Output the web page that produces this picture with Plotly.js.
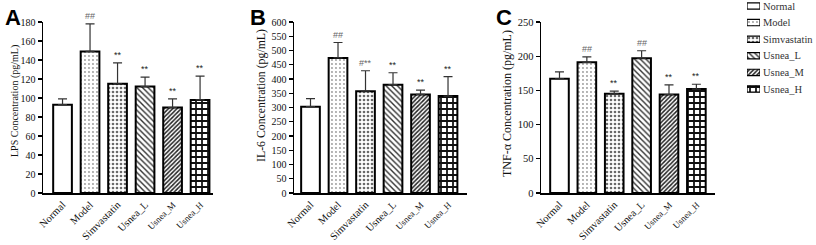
<!DOCTYPE html>
<html><head><meta charset="utf-8">
<script src="https://cdn.plot.ly/plotly-3.0.1.min.js"></script>
<style>html,body{margin:0;padding:0;background:#fff}#c{width:816px;height:245px}</style>
</head><body><div id="c"></div>
<script>
const categories = ['Normal','Model','Simvastatin','Usnea_L','Usnea_M','Usnea_H'];
const tickLabels = ['Normal','Model','Simvastatin','Usnea_L','<span style="font-size:9px">Usnea_M</span>','<span style="font-size:9px">Usnea_H</span>'];
const legendLabels = ['Normal','Model','Simvastatin','Usnea_L','Usnea_M','Usnea_H'];
const lpsMean = [93, 149, 115, 112, 90, 98];
const lpsTop  = [99, 178, 137, 122, 99, 123];
const lpsMarks = ['', '##', '**', '**', '**', '**'];
const il6Mean = [303, 474, 357, 380, 346, 340];
const il6Top  = [331, 528, 429, 422, 361, 408];
const il6Marks = ['', '##', '#**', '**', '**', '**'];
const tnfMean = [167, 191, 145, 197, 144, 152];
const tnfTop  = [177, 199, 149, 208, 158, 159];
const tnfMarks = ['', '##', '**', '##', '**', '**'];
const yTitles = ['LPS Concentration (pg/mL)', 'IL-6 Concentration (pg/mL)', 'TNF-α Concentration (pg/mL)'];
const panelLetters = ['A','B','C'];

const patterns = [
  {shape:'', bgcolor:'#ffffff'},
  {shape:'.', size:4, solidity:0.18, fgcolor:'#9a9a9a', bgcolor:'#ffffff'},
  {shape:'.', size:4, solidity:0.35, fgcolor:'#6a6a6a', bgcolor:'#ffffff'},
  {shape:'\\', size:4, solidity:0.35, fgcolor:'#333333', bgcolor:'#ffffff'},
  {shape:'/', size:3, solidity:0.5, fgcolor:'#222222', bgcolor:'#ffffff'},
  {shape:'+', size:6, solidity:0.5, fgcolor:'#111111', bgcolor:'#ffffff'}
];

const panels = [
  {mean:lpsMean, top:lpsTop, marks:lpsMarks, dom:[43,213], xr:[-0.71,5.47], yr:[0,180], dt:20, tf:10, tt:{x:15, y:101, s:10}},
  {mean:il6Mean, top:il6Top, marks:il6Marks, dom:[294,467], xr:[-0.6,5.69], yr:[0,600], dt:50, tf:10, tt:{x:261, y:96, s:11.8}},
  {mean:tnfMean, top:tnfTop, marks:tnfMarks, dom:[541,715], xr:[-0.675,5.68], yr:[0,250], dt:50, tf:10.5, tt:{x:507, y:104, s:12}}
];
const W = 816, H = 245;
const yDom = [(H-193)/H, (H-22)/H];
const serif = 'Liberation Serif, Times New Roman, serif';

const traces = [];
const annotations = [];
const layout = {
  width: W, height: H, margin:{l:0,r:0,t:0,b:0},
  paper_bgcolor:'#fff', plot_bgcolor:'#fff',
  barmode:'overlay', showlegend:false,
  font:{family:serif, color:'#000'}
};

panels.forEach((p, pi) => {
  const ax = pi === 0 ? '' : String(pi+1);
  categories.forEach((c, ci) => {
    traces.push({
      type:'bar', x:[c], y:[p.mean[ci]], width:0.68, name:c,
      xaxis:'x'+ax, yaxis:'y'+ax,
      marker:{color:'#fff', line:{color:'#000', width:2}, pattern:patterns[ci]},
      error_y:{type:'data', symmetric:false, array:[p.top[ci]-p.mean[ci]], arrayminus:[0], color:'#333', thickness:1.2, width:4.5},
      hoverinfo:'skip'
    });
    if (p.marks[ci]) {
      const isHash = p.marks[ci].startsWith('#');
      annotations.push({
        xref:'x'+ax, yref:'y'+ax, x:c, y:p.top[ci], yanchor:'bottom', yshift:1,
        text:p.marks[ci], showarrow:false,
        font:{family:'Liberation Sans, Arial, sans-serif', size:9, color: isHash ? '#666' : '#222'}
      });
    }
  });
  layout['xaxis'+ax] = {
    domain:[p.dom[0]/W, p.dom[1]/W], range:p.xr, anchor:'y'+ax,
    type:'category', tickmode:'array', tickvals:categories, ticktext:tickLabels,
    tickangle:-45, ticks:'', showline:true, linecolor:'#000', linewidth:1.5,
    showgrid:false, zeroline:false, tickfont:{family:serif, size:10.5, color:'#111'}
  };
  layout['yaxis'+ax] = {
    domain:yDom, range:p.yr, anchor:'x'+ax, dtick:p.dt, tick0:0,
    ticks:'outside', ticklen:4, tickwidth:1.2, tickcolor:'#000',
    showline:true, linecolor:'#000', linewidth:1.5, showgrid:false, zeroline:false,
    tickfont:{family:serif, size:p.tf, color:'#111'}
  };
  annotations.push({
    xref:'paper', yref:'paper', x:p.tt.x/W, y:(H-p.tt.y)/H, textangle:-90,
    text:yTitles[pi], showarrow:false, xanchor:'center', yanchor:'middle',
    font:{family:serif, size:p.tt.s, color:'#111'}
  });
  const letterX = [3, 248, 494][pi];
  annotations.push({
    xref:'paper', yref:'paper', x:letterX/W, y:1 - 3/H, xanchor:'left', yanchor:'top',
    text:'<b>'+panelLetters[pi]+'</b>', showarrow:false,
    font:{family:'Liberation Sans, Arial, sans-serif', size:22, color:'#000'}
  });
});

// legend drawn as a small horizontal-bar subplot
categories.forEach((c, ci) => {
  traces.push({
    type:'bar', orientation:'h', y:[c], x:[1], width:0.38, name:c,
    xaxis:'x4', yaxis:'y4',
    marker:{color:'#fff', line:{color:'#000', width:1.2}, pattern:patterns[ci]},
    hoverinfo:'skip'
  });
});
layout.xaxis4 = {domain:[747/W, 760/W], range:[0,1], anchor:'y4', visible:false, fixedrange:true};
layout.yaxis4 = {domain:[(H-97.3)/H, 1], range:[5.5,-0.36], anchor:'x4', type:'category',
  side:'right', tickmode:'array', tickvals:categories, ticktext:legendLabels,
  ticks:'', ticklabelstandoff:2, showline:false, showgrid:false, zeroline:false,
  tickfont:{family:serif, size:10.5, color:'#333'}};
layout.annotations = annotations;

Plotly.newPlot('c', traces, layout, {staticPlot:true, displayModeBar:false});
</script></body></html>
